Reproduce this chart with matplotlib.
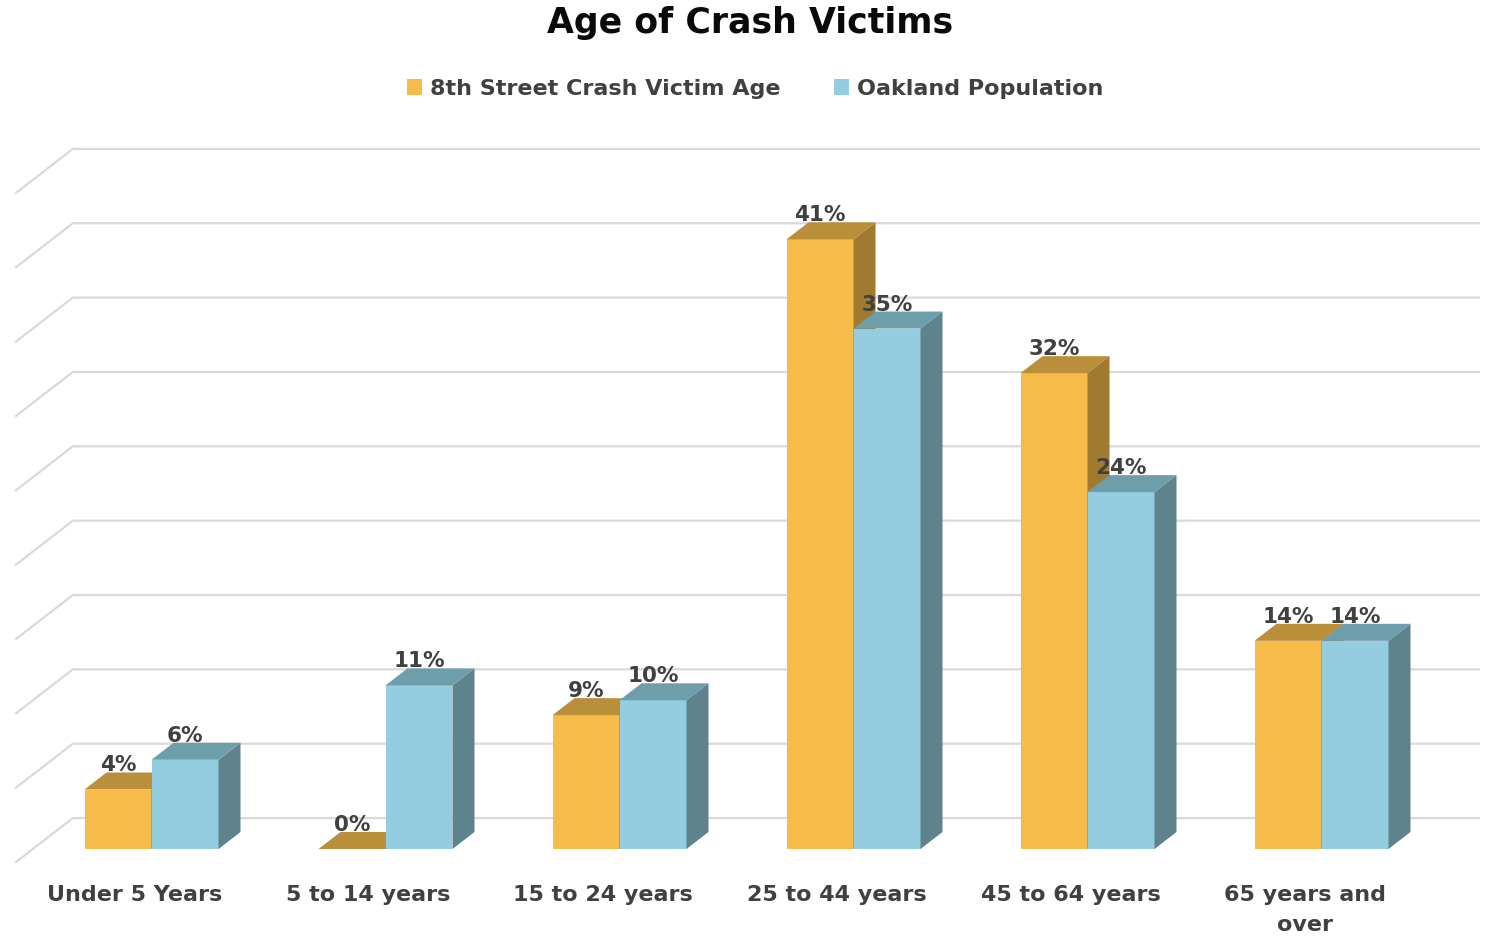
import matplotlib
matplotlib.use('Agg')
import matplotlib.pyplot as plt
from matplotlib.patches import Polygon, Patch

# ---------------- data ----------------
title = "Age of Crash Victims"
categories = ["Under 5 Years", "5 to 14 years", "15 to 24 years",
              "25 to 44 years", "45 to 64 years", "65 years and\nover"]
series_names = ["8th Street Crash Victim Age", "Oakland Population"]
crash_pct = [4, 0, 9, 41, 32, 14]
oakland_pct = [6, 11, 10, 35, 24, 14]
grid_ticks = [0, 5, 10, 15, 20, 25, 30, 35, 40, 45]

# ---------------- style ----------------
front_cols = ["#F7BB4A", "#94CDE0"]
top_cols = ["#BA8F3A", "#6E9DAC"]
side_cols = ["#A07A30", "#5E838C"]
grid_col = "#D9D9D9"
text_col = "#404040"
FONT = "DejaVu Sans"

W, H = 1491, 936
fig = plt.figure(figsize=(W / 100, H / 100), dpi=100)
ax = fig.add_axes([0, 0, 1, 1])
PX_PER_CAT = 234.0
PX_PER_PCT = 14.87
X0PX = 151.5     # pixel x of first category center
Y0PX = 849.0     # pixel y (from top) of bar front baseline
ax.set_xlim((0 - X0PX) / PX_PER_CAT, (W - X0PX) / PX_PER_CAT)
ax.set_ylim((Y0PX - H) / PX_PER_PCT, Y0PX / PX_PER_PCT)
ax.axis('off')

# oblique depth vector of a bar (data units)
DX = 22 / PX_PER_CAT
DY = 17 / PX_PER_PCT
BAR_W = 67 / PX_PER_CAT
WALL_T = 1.82     # back wall depth, in bar-depth units
FRONT_T = -0.765  # front floor edge, in bar-depth units
LEFT_X = (16 - X0PX) / PX_PER_CAT
RIGHT_X = (1479 - X0PX) / PX_PER_CAT

# gridlines (back wall + left wall diagonal)
for v in grid_ticks:
    x_front = LEFT_X
    y_front = v + FRONT_T * DY
    x_back = LEFT_X + (WALL_T - FRONT_T) * DX
    y_back = v + WALL_T * DY
    ax.plot([x_front, x_back, RIGHT_X], [y_front, y_back, y_back],
            color=grid_col, lw=1.6, solid_joinstyle='miter', zorder=1)


def bar3d(x0, h, k):
    x1 = x0 + BAR_W
    if h > 0:
        ax.add_patch(Polygon([(x0, 0), (x1, 0), (x1, h), (x0, h)], closed=True,
                             fc=front_cols[k], ec='none', zorder=3))
        ax.add_patch(Polygon([(x1, 0), (x1 + DX, DY), (x1 + DX, h + DY), (x1, h)],
                             closed=True, fc=side_cols[k], ec='none', zorder=3))
    ax.add_patch(Polygon([(x0, h), (x1, h), (x1 + DX, h + DY), (x0 + DX, h + DY)],
                         closed=True, fc=top_cols[k], ec='none', zorder=3))


label_y_top = (Y0PX - 885) / PX_PER_PCT
for i in range(len(categories)):
    for k, vals in enumerate([crash_pct, oakland_pct]):
        x0 = i - BAR_W + k * BAR_W
        bar3d(x0, vals[i], k)
        ax.text(x0 + BAR_W / 2, vals[i] + DY - 0.2, f"{vals[i]}%",
                ha='center', va='bottom', fontsize=15.5, color=text_col,
                family=FONT, fontweight='semibold', zorder=5)
    ax.text(i - 17 / PX_PER_CAT, label_y_top, categories[i],
            ha='center', va='top', fontsize=16, color=text_col,
            family=FONT, fontweight='semibold', linespacing=1.62, zorder=5)

fig.text(750 / W, 1 - 23 / H, title, ha='center', va='center', fontsize=25,
         fontweight='bold', color='#0A0A0A', family=FONT)

handles = [Patch(fc=front_cols[0], ec='none'), Patch(fc=front_cols[1], ec='none')]
leg = fig.legend(handles, series_names, loc='center', bbox_to_anchor=(755 / W, 1 - 89 / H),
                 ncol=2, frameon=False, handlelength=0.7, handleheight=0.7,
                 handletextpad=0.35, columnspacing=2.4,
                 prop={'family': FONT, 'size': 16, 'weight': 'semibold'})
for t in leg.get_texts():
    t.set_color(text_col)

fig.savefig("out.png", dpi=100)
